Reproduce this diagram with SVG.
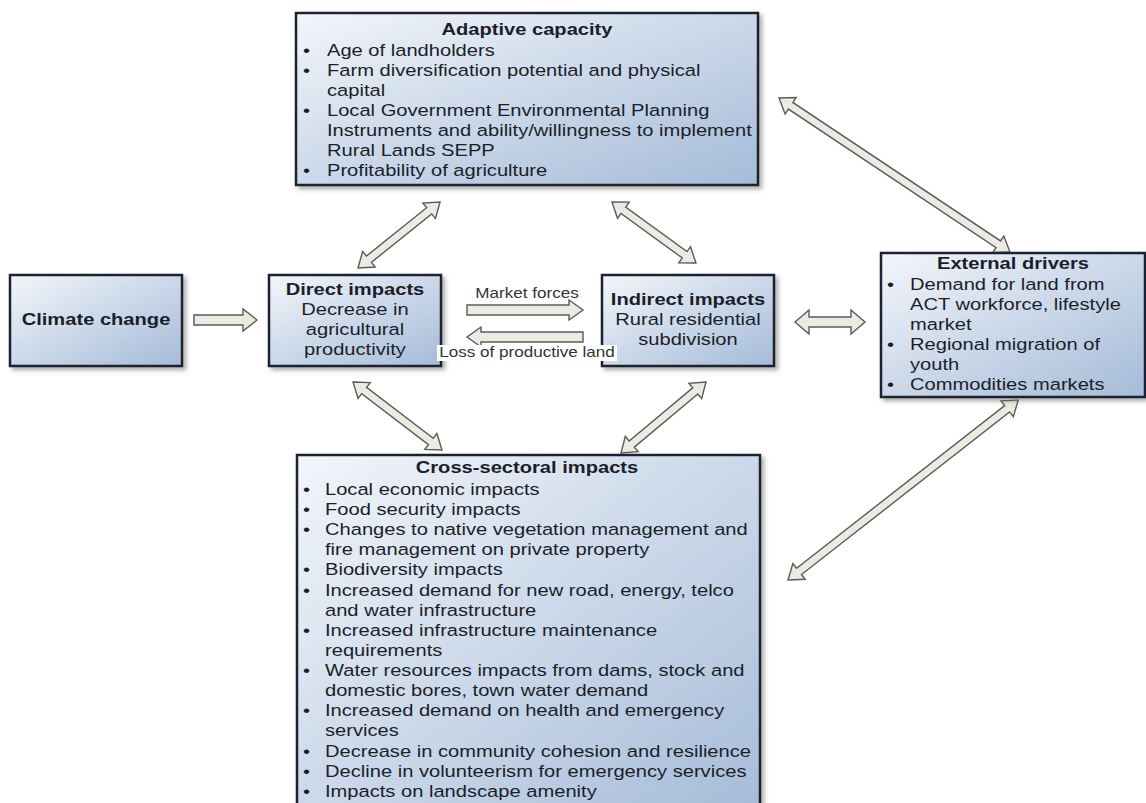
<svg xmlns="http://www.w3.org/2000/svg" width="1146" height="803" viewBox="0 0 1146 803">
  <defs>
    <linearGradient id="boxFill" x1="0" y1="0" x2="1" y2="1">
      <stop offset="0" stop-color="#f3f6fa"/>
      <stop offset="0.45" stop-color="#cfdbeb"/>
      <stop offset="1" stop-color="#a5bbd8"/>
    </linearGradient>
    <filter id="shadow" x="-5%" y="-5%" width="115%" height="120%">
      <feDropShadow dx="3" dy="3" stdDeviation="2" flood-color="#6b6b6b" flood-opacity="0.55"/>
    </filter>
    <style>
      .box { fill: url(#boxFill); stroke: #1c2230; stroke-width: 2.5; filter: url(#shadow); }
      .t { font-family: "Liberation Sans", Arial, sans-serif; font-size: 16.5px; fill: #1b1e28; }
      .b { font-weight: bold; }
      .c { text-anchor: middle; }
      .lbl { font-family: "Liberation Sans", Arial, sans-serif; font-size: 14px; fill: #333; text-anchor: middle; }
      .arr { fill: #ecebe2; stroke: #5a5a5a; stroke-width: 1.4; stroke-linejoin: miter; }
    </style>
    <!-- double-headed block arrow, unit length set per use via separate paths -->
  </defs>

  <rect width="1146" height="803" fill="#ffffff"/>

  <!-- connectors -->
  <g id="connectors">
    <!-- climate change -> direct impacts -->
    <polygon class="arr" points="194,315 243,315 243,309 257,320 243,331 243,325 194,325"/>
    <!-- market forces -->
    <polygon class="arr" points="467,305 569,305 569,300 583,310 569,320 569,315 467,315"/>
    <!-- loss of productive land -->
    <polygon class="arr" points="583,332 481,332 481,327 467,337 481,347 481,342 583,342"/>
    <!-- indirect <-> external -->
    <polygon class="arr" points="795,322 809,310 809,317 851,317 851,310 865,322 851,334 851,327 809,327 809,334"/>

    <!-- diagonal double arrows: local axis along x, length L -->
    <g transform="translate(358,268) rotate(-38.8)">
      <polygon class="arr" points="0,0 14,-10 14,-4 91.3,-4 91.3,-10 105.3,0 91.3,10 91.3,4 14,4 14,10"/>
    </g>
    <g transform="translate(353,382) rotate(37.4)">
      <polygon class="arr" points="0,0 14,-10 14,-4 98,-4 98,-10 112,0 98,10 98,4 14,4 14,10"/>
    </g>
    <g transform="translate(612,202) rotate(36)">
      <polygon class="arr" points="0,0 14,-10 14,-4 89.8,-4 89.8,-10 103.8,0 89.8,10 89.8,4 14,4 14,10"/>
    </g>
    <g transform="translate(621,453) rotate(-39.9)">
      <polygon class="arr" points="0,0 14,-10 14,-4 96.8,-4 96.8,-10 110.8,0 96.8,10 96.8,4 14,4 14,10"/>
    </g>
    <g transform="translate(779,98) rotate(33.7)">
      <polygon class="arr" points="0,0 14,-10 14,-4 263.6,-4 263.6,-10 277.6,0 263.6,10 263.6,4 14,4 14,10"/>
    </g>
    <g transform="translate(788,580) rotate(-38)">
      <polygon class="arr" points="0,0 14,-10 14,-4 278.1,-4 278.1,-10 292.1,0 278.1,10 278.1,4 14,4 14,10"/>
    </g>
  </g>

  <!-- Adaptive capacity -->
  <g id="adaptive">
    <rect class="box" x="296" y="13" width="462" height="172"/>
    <g transform="scale(1.22 1)">
      <text class="t b c" x="431.97" y="35">Adaptive capacity</text>
      <text class="t" x="248.36" y="56">•</text>
      <text class="t" x="268.03" y="56">Age of landholders</text>
      <text class="t" x="248.36" y="76">•</text>
      <text class="t" x="268.03" y="76">Farm diversification potential and physical</text>
      <text class="t" x="268.03" y="96">capital</text>
      <text class="t" x="248.36" y="116">•</text>
      <text class="t" x="268.03" y="116">Local Government Environmental Planning</text>
      <text class="t" x="268.03" y="136">Instruments and ability/willingness to implement</text>
      <text class="t" x="268.03" y="156">Rural Lands SEPP</text>
      <text class="t" x="248.36" y="176">•</text>
      <text class="t" x="268.03" y="176">Profitability of agriculture</text>
    </g>
  </g>

  <!-- Climate change -->
  <g id="climate">
    <rect class="box" x="10" y="275" width="172" height="91"/>
    <g transform="scale(1.22 1)">
      <text class="t b c" x="78.69" y="325">Climate change</text>
    </g>
  </g>

  <!-- Direct impacts -->
  <g id="direct">
    <rect class="box" x="269" y="275" width="172" height="91"/>
    <g transform="scale(1.22 1)">
      <text class="t b c" x="290.98" y="295">Direct impacts</text>
      <text class="t c" x="290.98" y="315">Decrease in</text>
      <text class="t c" x="290.98" y="335">agricultural</text>
      <text class="t c" x="290.98" y="355">productivity</text>
    </g>
  </g>

  <!-- Indirect impacts -->
  <g id="indirect">
    <rect class="box" x="602" y="275" width="172" height="91"/>
    <g transform="scale(1.22 1)">
      <text class="t b c" x="563.93" y="305">Indirect impacts</text>
      <text class="t c" x="563.93" y="325">Rural residential</text>
      <text class="t c" x="563.93" y="345">subdivision</text>
    </g>
  </g>

  <!-- arrow labels -->
  <g id="labels">
    <g transform="scale(1.22 1)">
      <text class="lbl" x="431.97" y="298">Market forces</text>
    </g>
    <rect x="437" y="345" width="180" height="16" fill="#ffffff"/>
    <g transform="scale(1.22 1)">
      <text class="lbl" x="431.97" y="357">Loss of productive land</text>
    </g>
  </g>

  <!-- External drivers -->
  <g id="external">
    <rect class="box" x="881" y="253" width="264" height="144"/>
    <g transform="scale(1.22 1)">
      <text class="t b c" x="830.33" y="269">External drivers</text>
      <text class="t" x="727.05" y="290">•</text>
      <text class="t" x="745.9" y="290">Demand for land from</text>
      <text class="t" x="745.9" y="310">ACT workforce, lifestyle</text>
      <text class="t" x="745.9" y="330">market</text>
      <text class="t" x="727.05" y="350">•</text>
      <text class="t" x="745.9" y="350">Regional migration of</text>
      <text class="t" x="745.9" y="370">youth</text>
      <text class="t" x="727.05" y="390">•</text>
      <text class="t" x="745.9" y="390">Commodities markets</text>
    </g>
  </g>

  <!-- Cross-sectoral impacts -->
  <g id="cross">
    <rect class="box" x="297" y="455" width="463" height="365"/>
    <g transform="scale(1.22 1)">
      <text class="t b c" x="431.97" y="473">Cross-sectoral impacts</text>
      <text class="t" x="248.36" y="495">•</text>
      <text class="t" x="266.39" y="495">Local economic impacts</text>
      <text class="t" x="248.36" y="515">•</text>
      <text class="t" x="266.39" y="515">Food security impacts</text>
      <text class="t" x="248.36" y="535">•</text>
      <text class="t" x="266.39" y="535">Changes to native vegetation management and</text>
      <text class="t" x="266.39" y="555">fire management on private property</text>
      <text class="t" x="248.36" y="575">•</text>
      <text class="t" x="266.39" y="575">Biodiversity impacts</text>
      <text class="t" x="248.36" y="596">•</text>
      <text class="t" x="266.39" y="596">Increased demand for new road, energy, telco</text>
      <text class="t" x="266.39" y="616">and water infrastructure</text>
      <text class="t" x="248.36" y="636">•</text>
      <text class="t" x="266.39" y="636">Increased infrastructure maintenance</text>
      <text class="t" x="266.39" y="656">requirements</text>
      <text class="t" x="248.36" y="676">•</text>
      <text class="t" x="266.39" y="676">Water resources impacts from dams, stock and</text>
      <text class="t" x="266.39" y="696">domestic bores, town water demand</text>
      <text class="t" x="248.36" y="716">•</text>
      <text class="t" x="266.39" y="716">Increased demand on health and emergency</text>
      <text class="t" x="266.39" y="736">services</text>
      <text class="t" x="248.36" y="757">•</text>
      <text class="t" x="266.39" y="757">Decrease in community cohesion and resilience</text>
      <text class="t" x="248.36" y="777">•</text>
      <text class="t" x="266.39" y="777">Decline in volunteerism for emergency services</text>
      <text class="t" x="248.36" y="797">•</text>
      <text class="t" x="266.39" y="797">Impacts on landscape amenity</text>
    </g>
  </g>
</svg>
